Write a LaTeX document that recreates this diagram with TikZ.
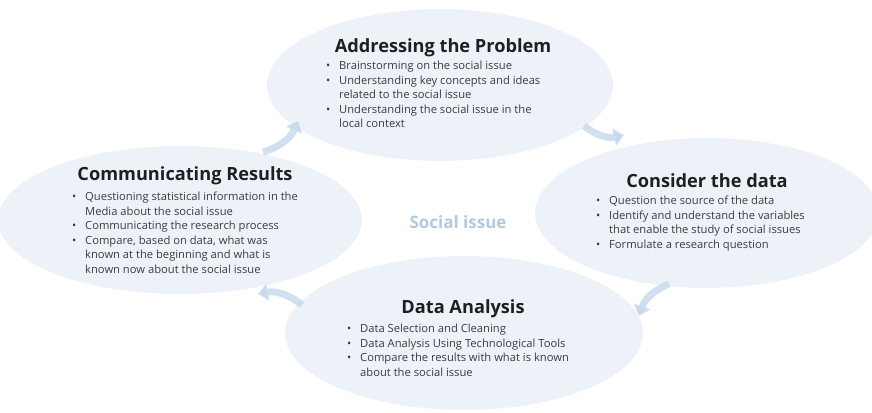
\documentclass[tikz,border=0pt]{standalone}
\usepackage{fontspec}
\setmainfont{Open Sans}
\usetikzlibrary{arrows.meta,shapes.geometric,positioning}
\definecolor{phaseFill}{HTML}{E6EDF6}
\definecolor{cycleBlue}{HTML}{C9D9EC}
\definecolor{coreBlue}{HTML}{B3C8DF}
\definecolor{bodyGray}{HTML}{3C3C3C}
\newcommand{\bul}{\makebox[13pt][l]{\textbullet}}
\newcommand{\hang}{\hspace*{13pt}}
\tikzset{
  phase/.style={ellipse, fill=phaseFill, fill opacity=.7, inner sep=0pt},
  phasetitle/.style={font=\bfseries\fontsize{18.2}{21}\selectfont, text=black!88, inner sep=0pt},
  phasebody/.style={font=\fontsize{11.2}{14.5}\selectfont, text=bodyGray, align=left,
    inner sep=0pt, anchor=north west},
  cyclearrow/.style={-{Triangle[length=10pt,width=17pt]}, line width=7pt, draw=cycleBlue,
    draw opacity=.85},
  coretext/.style={font=\bfseries\fontsize{17}{19}\selectfont, text=coreBlue, inner sep=0pt}
}

\begin{document}
\begin{tikzpicture}[x=1pt, y=-1pt]
  \useasboundingbox (0,0) rectangle (872,412);

  % the four phases around the social issue
  \node[phase, minimum width=346pt, minimum height=152pt] (problem) at (440,85) {};
  \node[phase, minimum width=364pt, minimum height=148pt] (results) at (180,220) {};
  \node[phase, minimum width=344pt, minimum height=150pt] (data) at (707,213) {};
  \node[phase, minimum width=358pt, minimum height=154pt] (analysis) at (464,333) {};

  \node[coretext] (core) at (458,222) {Social issue};

  \node[phasetitle] (problemT) at (443,48) {Addressing the Problem};
  \node[phasebody] (problemB) at (326,61) {\bul Brainstorming on the social issue\\
    \bul Understanding key concepts and ideas\\ \hang related to the social issue\\
    \bul Understanding the social issue in the\\ \hang local context};

  \node[phasetitle] (resultsT) at (185,176) {Communicating Results};
  \node[phasebody] (resultsB) at (72,192) {\bul Questioning statistical information in the\\
    \hang Media about the social issue\\ \bul Communicating the research process\\
    \bul Compare, based on data, what was\\ \hang known at the beginning and what is\\
    \hang known now about the social issue};

  \node[phasetitle] (dataT) at (707,181) {Consider the data};
  \node[phasebody] (dataB) at (596,196) {\bul Question the source of the data\\
    \bul Identify and understand the variables\\ \hang that enable the study of social issues\\
    \bul Formulate a research question};

  \node[phasetitle] (analysisT) at (463,309) {Data Analysis};
  \node[phasebody] (analysisB) at (347,324) {\bul Data Selection and Cleaning\\
    \bul Data Analysis Using Technological Tools\\
    \bul Compare the results with what is known\\ \hang about the social issue};

  % clockwise arrows between the phases
  \coordinate (pr1) at (263,152);
  \coordinate (pr2) at (298,121);
  \coordinate (pd1) at (584,126);
  \coordinate (pd2) at (624,135);
  \coordinate (da1) at (669,284);
  \coordinate (da2) at (639,316);
  \coordinate (ar1) at (302,305);
  \coordinate (ar2) at (258,294);
  \draw[cyclearrow] (pr1) to[bend right=25] (pr2);
  \draw[cyclearrow] (pd1) to[bend right=25] (pd2);
  \draw[cyclearrow] (da1) to[bend right=25] (da2);
  \draw[cyclearrow] (ar1) to[bend right=25] (ar2);
\end{tikzpicture}
\end{document}
